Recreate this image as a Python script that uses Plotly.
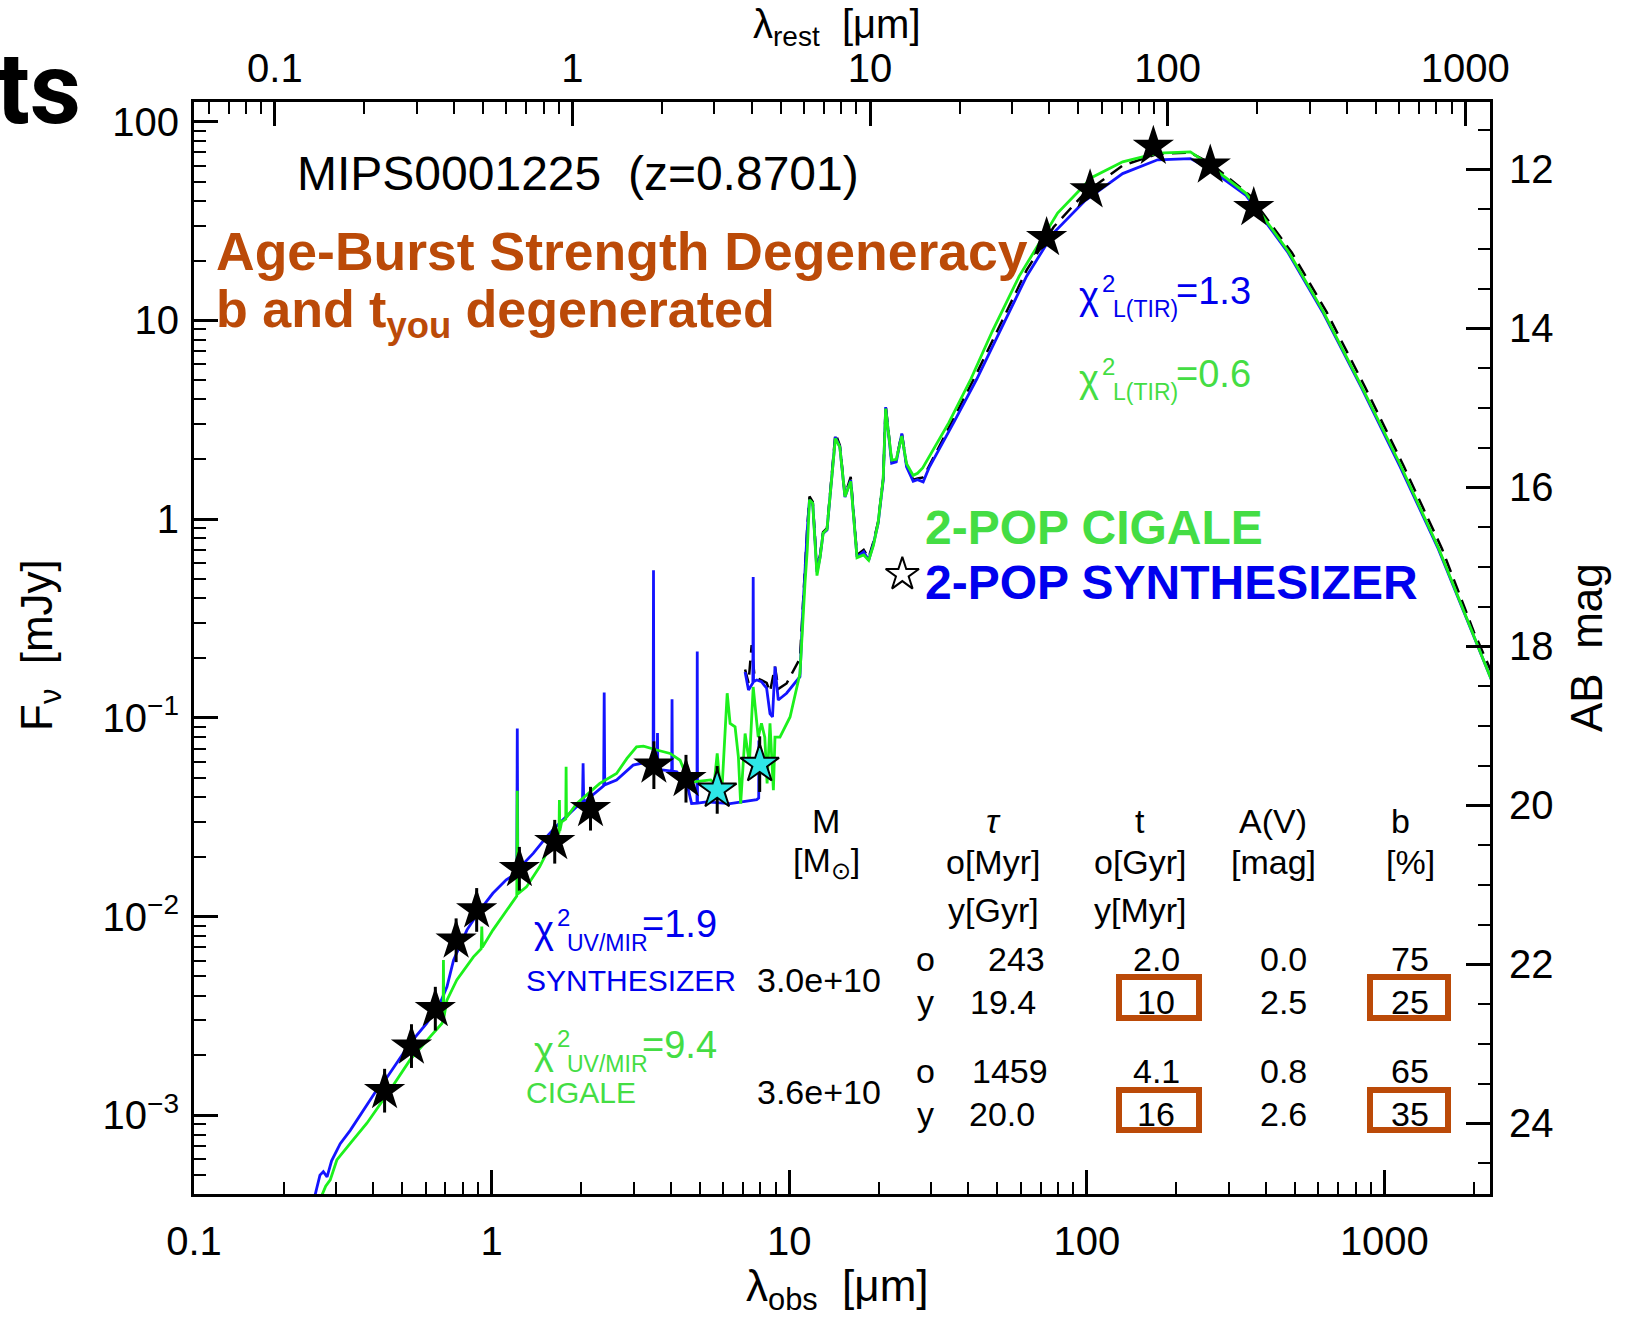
import plotly.graph_objects as go
import numpy as np

# ---------------- data ----------------
redshift = 0.8701

# photometry (observed wavelength in micron, flux in mJy)
phot_lam = [0.437, 0.538, 0.647, 0.760, 0.891, 1.24, 1.63, 2.15, 3.51, 4.50, 73.3, 102.6, 167.4, 260.0, 364.0]
phot_flux = [1.33e-3, 2.23e-3, 3.44e-3, 7.6e-3, 1.08e-2, 1.74e-2, 2.38e-2, 3.49e-2, 5.78e-2, 4.94e-2, 26.1, 45.3, 75.0, 60.4, 36.9]
phot_err_dex = [0.11, 0.11, 0.11, 0.11, 0.11, 0.11, 0.11, 0.11, 0.12, 0.12, 0.0, 0.0, 0.0, 0.0, 0.0]

irac_lam = [5.73, 7.96]
irac_flux = [4.34e-2, 5.85e-2]
irac_err_dex = [0.12, 0.14]

excl_lam = [24.0]
excl_flux = [0.527]

# SYNTHESIZER model (blue): stellar part
syn_star_lam = [0.250, 0.255, 0.265, 0.272, 0.280, 0.290, 0.310, 0.335, 0.371, 0.411, 0.445, 0.481, 0.532,
                0.605, 0.671, 0.708, 0.745, 0.826, 0.914, 1.01, 1.12, 1.215, 1.22, 1.225, 1.25, 1.38, 1.53,
                1.65, 1.93, 2.02, 2.03, 2.04, 2.31, 2.38, 2.39, 2.40, 2.63, 2.99, 3.24, 3.49, 3.50, 3.51,
                3.59, 3.60, 3.61, 3.62, 4.03, 4.04, 4.05, 4.19, 4.53, 4.70, 4.90, 4.91, 4.92, 5.28, 6.33,
                7.78, 7.90, 7.91]
syn_star_flux = [3.5e-4, 4.0e-4, 5.0e-4, 5.2e-4, 4.9e-4, 5.9e-4, 7.2e-4, 8.4e-4, 1.06e-3, 1.34e-3, 1.55e-3,
                 1.83e-3, 2.30e-3, 2.90e-3, 3.66e-3, 4.43e-3, 6.04e-3, 8.55e-3, 1.08e-2, 1.31e-2, 1.53e-2,
                 1.66e-2, 8.85e-2, 1.70e-2, 1.78e-2, 2.08e-2, 2.52e-2, 2.85e-2, 3.57e-2, 3.70e-2, 5.9e-2,
                 3.75e-2, 4.42e-2, 4.55e-2, 0.134, 4.6e-2, 4.87e-2, 5.78e-2, 5.94e-2, 5.7e-2, 0.553, 5.7e-2,
                 5.56e-2, 5.55e-2, 8.4e-2, 5.5e-2, 5.4e-2, 0.124, 5.4e-2, 5.35e-2, 4.68e-2, 3.71e-2, 3.72e-2,
                 0.216, 3.72e-2, 3.78e-2, 3.70e-2, 3.88e-2, 3.95e-2, 7.7e-2]

# SYNTHESIZER model (blue): dust part
syn_dust_lam = [7.11, 7.30, 7.55, 7.57, 7.59, 7.78, 8.07, 8.40, 8.62, 8.79, 8.96, 9.19, 9.80, 10.87, 11.1,
                11.5, 11.7, 12.0, 12.4, 12.7, 13.0, 13.4, 14.3, 14.8, 15.4, 16.1, 16.9, 17.8, 18.5, 19.2,
                19.9, 20.7, 21.1, 22.1, 22.9, 23.9, 24.8, 26.1, 27.0, 28.2, 29.5, 35.7, 42.7, 51.0, 62.8,
                77.4, 98.2, 132, 173, 223, 255, 343, 475, 621, 836, 1127, 1518, 2300]
syn_dust_flux = [0.170, 0.138, 0.150, 0.512, 0.152, 0.155, 0.152, 0.141, 0.105, 0.101, 0.181, 0.123, 0.133,
                 0.161, 0.335, 0.879, 1.245, 1.20, 0.542, 0.645, 0.848, 0.88, 2.59, 2.31, 1.29, 1.57, 0.645,
                 0.684, 0.621, 0.753, 0.95, 1.57, 3.66, 1.91, 1.94, 2.70, 1.83, 1.55, 1.58, 1.54, 1.81, 3.06,
                 5.07, 8.79, 16.7, 27.6, 39.8, 54.8, 64.3, 65.2, 58.7, 42.6, 21.9, 11.0, 4.62, 1.85, 0.708,
                 0.153]

# CIGALE model (green)
cig_lam = [0.262, 0.269, 0.277, 0.287, 0.302, 0.335, 0.381, 0.456, 0.532, 0.621, 0.681, 0.687, 0.689, 0.691,
           0.708, 0.764, 0.869, 0.923, 0.927, 0.931, 1.01, 1.15, 1.215, 1.22, 1.225, 1.31, 1.45, 1.61, 1.685,
           1.69, 1.695, 1.72, 1.775, 1.78, 1.785, 1.93, 2.31, 2.63, 2.85, 3.07, 3.24, 3.59, 3.98, 4.30, 4.53,
           4.76, 5.45, 5.60, 5.73, 5.85, 5.96, 6.19, 6.33, 6.58, 6.75, 6.87, 7.11, 7.35, 7.57, 7.87, 8.07,
           8.28, 8.43, 8.62, 8.85, 8.96, 9.31, 10.07, 10.87, 11.3, 11.5, 11.7, 12.0, 12.4, 12.7, 13.0, 13.4,
           14.3, 14.8, 15.4, 16.1, 16.9, 17.8, 18.5, 19.2, 19.9, 20.7, 21.1, 22.1, 22.9, 23.9, 24.8, 26.1,
           27.0, 28.1, 34.4, 40.8, 48.1, 59.3, 79.8, 104, 132, 173, 223, 255, 343, 475, 621, 836, 1127,
           1518, 2300]
cig_flux = [3.6e-4, 4.0e-4, 4.4e-4, 4.73e-4, 5.96e-4, 7.22e-4, 9.12e-4, 1.34e-3, 1.90e-3, 2.48e-3, 2.90e-3,
            3.0e-3, 6.04e-3, 3.1e-3, 3.80e-3, 4.80e-3, 6.27e-3, 6.9e-3, 8.9e-3, 7.0e-3, 8.55e-3, 1.12e-2,
            1.27e-2, 4.3e-2, 1.30e-2, 1.41e-2, 1.78e-2, 2.43e-2, 2.65e-2, 3.86e-2, 2.7e-2, 3.0e-2, 3.1e-2,
            5.68e-2, 3.15e-2, 3.7e-2, 4.68e-2, 5.25e-2, 6.25e-2, 7.15e-2, 7.21e-2, 6.89e-2, 6.62e-2, 6.12e-2,
            5.05e-2, 4.76e-2, 4.87e-2, 4.7e-2, 6.62e-2, 4.7e-2, 4.68e-2, 0.133, 9.38e-2, 9.02e-2, 6.37e-2,
            3.7e-2, 8.34e-2, 5.9e-2, 0.143, 8.0e-2, 9.38e-2, 8.0e-2, 4.68e-2, 9.38e-2, 4.33e-2, 8.0e-2,
            8.0e-2, 0.101, 0.167, 0.474, 0.697, 1.25, 1.20, 0.52, 0.64, 0.85, 0.89, 2.55, 2.30, 1.30, 1.55,
            0.64, 0.66, 0.62, 0.74, 0.96, 1.60, 3.60, 1.98, 2.00, 2.62, 1.90, 1.66, 1.70, 1.81, 3.06, 5.07,
            8.79, 16.7, 34.7, 52.4, 62.8, 69.5, 70.5, 61.4, 43.6, 22.3, 11.2, 4.70, 1.90, 0.72, 0.153]

# third model (black dashed)
dash_lam = [7.11, 7.30, 7.48, 7.65, 8.07, 8.40, 8.62, 8.96, 9.20, 9.80, 10.87, 11.1, 11.5, 11.7, 12.0, 12.4,
            12.7, 13.0, 13.4, 14.3, 14.8, 15.4, 16.1, 16.9, 17.8, 18.5, 19.2, 19.9, 20.7, 21.1, 22.1, 22.9,
            23.9, 24.8, 26.1, 27.0, 28.2, 35.7, 42.7, 51.0, 62.8, 77.4, 98.2, 132, 173, 223, 262, 353, 489,
            640, 861, 1161, 1563, 2000, 2300]
dash_flux = [0.175, 0.150, 0.232, 0.160, 0.155, 0.150, 0.135, 0.181, 0.140, 0.149, 0.199, 0.36, 0.90, 1.30,
             1.22, 0.56, 0.66, 0.86, 0.90, 2.70, 2.35, 1.32, 1.63, 0.66, 0.70, 0.64, 0.77, 0.97, 1.60, 3.74,
             1.95, 1.98, 2.72, 1.86, 1.58, 1.60, 1.62, 3.21, 5.43, 9.40, 17.9, 29.5, 43.6, 60.1, 68.9, 69.8,
             61.4, 42.6, 21.9, 11.0, 4.62, 1.85, 0.708, 0.27, 0.168]

# fit table
table_models = ["SYNTHESIZER", "CIGALE"]
table_mass = ["3.0e+10", "3.6e+10"]
table_tau = [["243", "19.4"], ["1459", "20.0"]]
table_t = [["2.0", "10"], ["4.1", "16"]]
table_av = [["0.0", "2.5"], ["0.8", "2.6"]]
table_b = [["75", "25"], ["65", "35"]]
chi2_uvmir = ["1.9", "9.4"]
chi2_tir = ["1.3", "0.6"]

x_ticks = [0.1, 1, 10, 100, 1000]
x_ticktext = ["0.1", "1", "10", "100", "1000"]
y_ticks = [1e-3, 1e-2, 1e-1, 1, 10, 100]
y_ticktext = ["10<sup>\u22123</sup>", "10<sup>\u22122</sup>", "10<sup>\u22121</sup>", "1", "10", "100"]

# ---------------- style / geometry ----------------
W, H = 1625, 1322
L, R, T, B = 194, 1490, 102, 1194
xlog_range = [-1.0, 3.355]
ylog_range = [-3.396, 2.099]
zp_ab = 16.40  # AB mag of 1 mJy

BLUE_L = "#1414ff"
BLUE_T = "#0000ee"
GREEN_L = "#1cf01c"
GREEN_T = "#44dd44"
BROWN = "#bb4a08"
CYAN = "#2ee6e6"
FONT = "Liberation Sans"


def px(x):
    return (x - L) / (R - L)


def py(y):
    return (B - y) / (B - T)


fig = go.Figure()

# dashed third model (drawn first, beneath)
fig.add_trace(go.Scatter(x=dash_lam, y=dash_flux, mode="lines",
                         line=dict(color="black", width=2.5, dash="14px,8px"), hoverinfo="skip"))
# blue model
fig.add_trace(go.Scatter(x=syn_star_lam, y=syn_star_flux, mode="lines",
                         line=dict(color=BLUE_L, width=2.8), hoverinfo="skip"))
fig.add_trace(go.Scatter(x=syn_dust_lam, y=syn_dust_flux, mode="lines",
                         line=dict(color=BLUE_L, width=2.8), hoverinfo="skip"))
# green model
fig.add_trace(go.Scatter(x=cig_lam, y=cig_flux, mode="lines",
                         line=dict(color=GREEN_L, width=2.8), hoverinfo="skip"))


def errs(f, d):
    f = np.array(f)
    d = np.array(d)
    return f * (10 ** d - 1), f * (1 - 10 ** (-d))


ep, em = errs(phot_flux, phot_err_dex)
fig.add_trace(go.Scatter(x=phot_lam, y=phot_flux, mode="markers",
                         marker=dict(symbol="star", size=31, color="black", line=dict(width=0)),
                         error_y=dict(type="data", array=ep, arrayminus=em, color="black", thickness=3, width=0),
                         hoverinfo="skip"))
ep2, em2 = errs(irac_flux, irac_err_dex)
fig.add_trace(go.Scatter(x=irac_lam, y=irac_flux, mode="markers",
                         marker=dict(symbol="star", size=29, color=CYAN, line=dict(width=2, color="black")),
                         error_y=dict(type="data", array=ep2, arrayminus=em2, color="black", thickness=3, width=0),
                         hoverinfo="skip"))
fig.add_trace(go.Scatter(x=excl_lam, y=excl_flux, mode="markers",
                         marker=dict(symbol="star", size=25, color="white", line=dict(width=2, color="black")),
                         hoverinfo="skip"))

# invisible traces to activate secondary axes
fig.add_trace(go.Scatter(x=[1], y=[1], xaxis="x2", yaxis="y", mode="markers",
                         marker=dict(opacity=0), hoverinfo="skip"))
fig.add_trace(go.Scatter(x=[1], y=[20], xaxis="x", yaxis="y2", mode="markers",
                         marker=dict(opacity=0), hoverinfo="skip"))

minor_x = [k * 10.0 ** e for e in range(-2, 4) for k in range(2, 10)]
minor_y = [k * 10.0 ** e for e in range(-4, 3) for k in range(2, 10)]

tickfont = dict(family=FONT, size=40, color="black")
common = dict(showgrid=False, zeroline=False, showline=True, linecolor="black", linewidth=3,
              ticks="inside", ticklen=24, tickwidth=2.5, tickcolor="black", tickfont=tickfont)
minor_style = dict(ticks="inside", ticklen=12, tickwidth=2, tickcolor="black", showgrid=False)

rest_shift = np.log10(1 + redshift)
fig.update_layout(
    width=W, height=H, margin=dict(l=L, r=W - R, t=T, b=H - B),
    paper_bgcolor="white", plot_bgcolor="white", showlegend=False,
    xaxis=dict(type="log", range=xlog_range, tickvals=x_ticks, ticktext=x_ticktext,
               minor=dict(tickvals=minor_x, **minor_style), ticklabelstandoff=10, **common),
    xaxis2=dict(type="log", overlaying="x", side="top", anchor="y",
                range=[xlog_range[0] - rest_shift, xlog_range[1] - rest_shift],
                tickvals=x_ticks, ticktext=x_ticktext,
                minor=dict(tickvals=minor_x, **minor_style), ticklabelstandoff=1, **common),
    yaxis=dict(type="log", range=ylog_range, tickvals=y_ticks, ticktext=y_ticktext,
               minor=dict(tickvals=minor_y, **minor_style), ticklabelstandoff=4, **common),
    yaxis2=dict(overlaying="y", side="right", anchor="x",
                range=[zp_ab - 2.5 * ylog_range[0], zp_ab - 2.5 * ylog_range[1]],
                tick0=12, dtick=2,
                minor=dict(dtick=0.5, **minor_style), ticklabelstandoff=8, **common),
)

ann = []


def add_text(text, x, y, size, color="black", xanchor="left", yanchor="middle", family=FONT, bold=False,
             angle=0):
    ann.append(dict(text=text, x=px(x), y=py(y), xref="paper", yref="paper", showarrow=False,
                    xanchor=xanchor, yanchor=yanchor, textangle=angle,
                    font=dict(family=family, size=size, color=color, weight="bold" if bold else "normal")))


# outside labels
add_text("ts", -6, 88, 100, bold=True, family="Roboto")
add_text("\u03bb<sub>rest</sub>  [\u03bcm]", 837, 27, 40, xanchor="center")
add_text("\u03bb<sub>obs</sub>  [\u03bcm]", 837, 1289, 44, xanchor="center")
add_text("F<sub>\u03bd</sub>  [mJy]", 40, 645, 44, xanchor="center", angle=-90)
add_text("AB  mag", 1586, 648, 44, xanchor="center", angle=-90)

# in-plot labels
add_text("MIPS0001225  (z=%.4f)" % redshift, 295, 173, 48)
add_text("Age-Burst Strength Degeneracy", 214, 252, 53.5, color=BROWN, bold=True)
add_text("b and t<sub>you</sub> degenerated", 214, 313, 52, color=BROWN, bold=True)
add_text("2-POP CIGALE", 923, 527, 48, color=GREEN_T, bold=True)
add_text("2-POP SYNTHESIZER", 923, 582, 48, color=BLUE_T, bold=True)

# chi2 TIR
for i, (col, dy) in enumerate([(BLUE_T, 0), (GREEN_T, 83)]):
    add_text("\u03c7", 1077, 296 + dy, 38, color=col)
    add_text("2", 1100, 283 + dy, 24, color=col)
    add_text("L(TIR)", 1111, 309 + dy, 23, color=col)
    add_text("=" + chi2_tir[i], 1174, 291 + dy, 38, color=col)

# chi2 UV/MIR + model names
for i, (col, dy) in enumerate([(BLUE_T, 0), (GREEN_T, 121)]):
    add_text("\u03c7", 532, 930 + dy, 38, color=col)
    add_text("2", 555, 917 + dy, 24, color=col)
    add_text("UV/MIR", 565, 943 + dy, 23, color=col)
    add_text("=" + chi2_uvmir[i], 640, 924 + dy, 38, color=col)
    add_text(table_models[i], 524, 980 + dy * 112 / 121, 30, color=col)

# table headers
hdr_y = [821, 862, 910]
add_text("M", 826, hdr_y[0], 34, xanchor="center")
add_text("[M<sub>\u2299</sub>]", 826, hdr_y[1], 34, xanchor="center")
add_text("<i>\u03c4</i>", 993, hdr_y[0], 34, xanchor="center")
add_text("o[Myr]", 993, hdr_y[1], 34, xanchor="center")
add_text("y[Gyr]", 993, hdr_y[2], 34, xanchor="center")
add_text("t", 1140, hdr_y[0], 34, xanchor="center")
add_text("o[Gyr]", 1140, hdr_y[1], 34, xanchor="center")
add_text("y[Myr]", 1140, hdr_y[2], 34, xanchor="center")
add_text("A(V)", 1273, hdr_y[0], 34, xanchor="center")
add_text("[mag]", 1273, hdr_y[1], 34, xanchor="center")
add_text("b", 1400, hdr_y[0], 34, xanchor="center")
add_text("[%]", 1410, hdr_y[1], 34, xanchor="center")

row_y = [[959, 1002], [1071, 1114]]
mass_y = [980, 1092]
tau_x = [[1016, 1003], [1010, 1002]]
for i in range(2):
    add_text(table_mass[i], 819, mass_y[i], 34, xanchor="center")
    for j, lab in enumerate(["o", "y"]):
        yy = row_y[i][j]
        add_text(lab, 926, yy, 34, xanchor="center")
        add_text(table_tau[i][j], tau_x[i][j], yy, 34, xanchor="center")
        add_text(table_t[i][j], 1156, yy, 34, xanchor="center")
        add_text(table_av[i][j], 1283, yy, 34, xanchor="center")
        add_text(table_b[i][j], 1410, yy, 34, xanchor="center")

fig.update_layout(annotations=ann)

# highlight boxes
shapes = []
for (x0, y0, x1, y1) in [(1119, 977, 1199, 1018), (1370, 977, 1448, 1018),
                         (1119, 1090, 1199, 1130), (1370, 1090, 1448, 1130)]:
    shapes.append(dict(type="rect", xref="paper", yref="paper", x0=px(x0), x1=px(x1), y0=py(y1), y1=py(y0),
                       line=dict(color=BROWN, width=6), fillcolor="rgba(0,0,0,0)"))
fig.update_layout(shapes=shapes)

fig.write_html("out.html")
